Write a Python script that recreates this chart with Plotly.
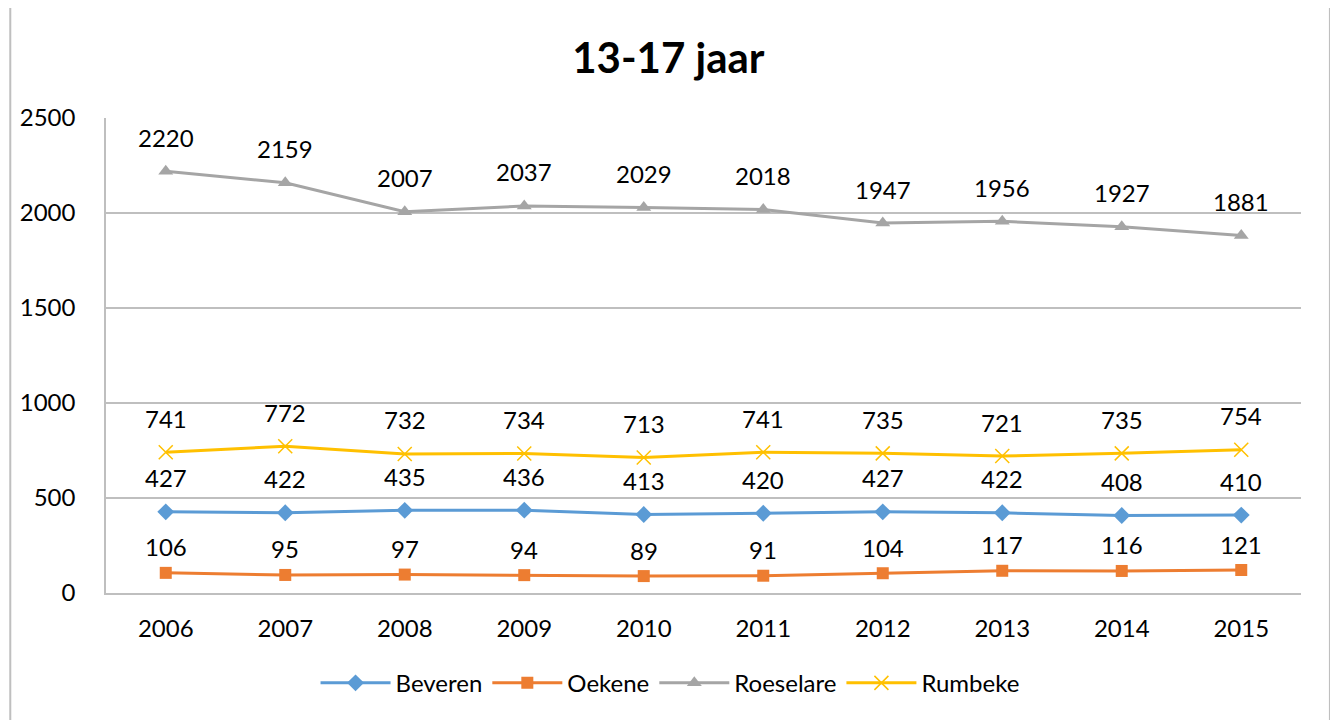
"""
13-17 jaar: evolutie per deelgemeente (Excel-stijl lijngrafiek).
"""
import plotly.graph_objects as go

YEARS = ["2006", "2007", "2008", "2009", "2010", "2011", "2012", "2013", "2014", "2015"]
BEVEREN = [427, 422, 435, 436, 413, 420, 427, 422, 408, 410]
OEKENE = [106, 95, 97, 94, 89, 91, 104, 117, 116, 121]
ROESELARE = [2220, 2159, 2007, 2037, 2029, 2018, 1947, 1956, 1927, 1881]
RUMBEKE = [741, 772, 732, 734, 713, 741, 735, 721, 735, 754]
Y_TICKS = [0, 500, 1000, 1500, 2000, 2500]

FONT = "Lato, Carlito, Calibri, sans-serif"
GRID = "#BFBFBF"
SIZE = 24

SERIES = [
    ("Beveren", BEVEREN, "#5B9BD5", dict(symbol="diamond", size=13), 34),
    ("Oekene", OEKENE, "#ED7D31", dict(symbol="square", size=12), 26),
    ("Roeselare", ROESELARE, "#A5A5A5", dict(symbol="triangle-up", size=13), 34),
    ("Rumbeke", RUMBEKE, "#FFC000", dict(symbol="x-thin", size=14), 34),
]

fig = go.Figure()
annotations = []
for name, values, color, marker, shift in SERIES:
    m = dict(marker, color=color, line=dict(color=color, width=1.5 if marker["symbol"] == "x-thin" else 0))
    fig.add_trace(go.Scatter(x=YEARS, y=values, name=name, mode="lines+markers",
                             line=dict(color=color, width=3), marker=m))
    # op een categorie-as: positie als index
    for i, y in enumerate(values):
        annotations.append(dict(x=i, y=y, text=str(y), showarrow=False, yshift=shift,
                                font=dict(size=SIZE, color="#000000", family=FONT)))

# kader rond de grafiek
fig.add_shape(type="rect", xref="paper", yref="paper",
              x0=-0.0801, x1=1.0242, y0=-0.28, y1=1.2379,
              line=dict(color="#BFBFBF", width=2), layer="below")

fig.update_layout(
    width=1338, height=720,
    margin=dict(l=95, r=45, t=110, b=135),
    paper_bgcolor="white", plot_bgcolor="white",
    font=dict(family=FONT, size=SIZE, color="#000000"),
    title=dict(text="<b>13-17 jaar</b>", x=0.4935, xanchor="center", y=0.93, yanchor="middle",
               font=dict(size=42, family=FONT, color="#000000")),
    annotations=annotations,
    showlegend=True,
    legend=dict(orientation="h", x=0.472, xanchor="center", y=-0.19, yanchor="middle",
                font=dict(size=SIZE, family=FONT), itemwidth=70, traceorder="normal"),
)
fig.update_xaxes(type="category", range=[-0.5, 9.5], showgrid=False, showline=True,
                 linecolor=GRID, linewidth=2, ticks="", ticklabelstandoff=13,
                 tickfont=dict(size=SIZE, family=FONT))
fig.update_yaxes(range=[0, 2500], tickvals=Y_TICKS, showgrid=True, gridcolor=GRID, gridwidth=1.5,
                 showline=True, linecolor=GRID, linewidth=1.5, zeroline=False, ticks="",
                 ticklabelstandoff=24, tickfont=dict(size=SIZE, family=FONT))

fig.write_html("out.html")
